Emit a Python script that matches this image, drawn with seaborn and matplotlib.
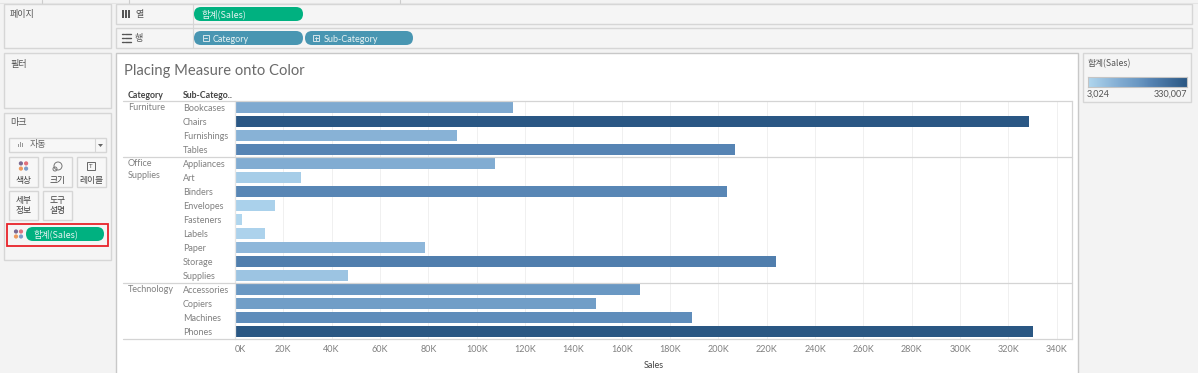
import pandas as pd
import matplotlib.pyplot as plt
import seaborn as sns
from matplotlib.colors import LinearSegmentedColormap, Normalize
from matplotlib.patches import Rectangle, FancyBboxPatch, Circle
from matplotlib.ticker import FuncFormatter
import numpy as np

categories = ['Furniture'] * 4 + ['Office Supplies'] * 9 + ['Technology'] * 4
sub_categories = ['Bookcases', 'Chairs', 'Furnishings', 'Tables',
                  'Appliances', 'Art', 'Binders', 'Envelopes', 'Fasteners',
                  'Labels', 'Paper', 'Storage', 'Supplies',
                  'Accessories', 'Copiers', 'Machines', 'Phones']
sales = [114880, 328449, 91705, 206966,
         107532, 27119, 203413, 16476, 3024,
         12486, 78479, 223844, 46674,
         167380, 149528, 189239, 330007]
x_ticks = list(range(0, 340001, 20000))
sales_min = 3024
sales_max = 330007

KR = ['Noto Sans CJK KR', 'DejaVu Sans']
sns.set_theme(style='white')
plt.rcParams['font.family'] = ['Lato', 'Noto Sans CJK KR', 'DejaVu Sans']

W, H = 1198, 373
cmap = LinearSegmentedColormap.from_list('tab_blue', [(0, '#b0d6ee'), (0.33, '#7faad1'), (0.5, '#6a98c3'),
                                                      (0.63, '#5583b3'), (1, '#2a5783')])
GREY = '#808080'
BORDER = '#d6d6d6'

fig = plt.figure(figsize=(W / 100, H / 100), dpi=100, facecolor='#f3f3f3')

# 바깥 화면 (pixel 좌표)
bg = fig.add_axes([0, 0, 1, 1])
bg.set_xlim(0, W)
bg.set_ylim(H, 0)
bg.axis('off')


def box(x0, y0, x1, y1, fc='#f5f5f5', ec=BORDER, lw=1.0, z=1):
    bg.add_patch(Rectangle((x0, y0), x1 - x0, y1 - y0, fc=fc, ec=ec, lw=lw, zorder=z))


def pill(x0, y0, x1, y1, color, label, tx, family=None, dy=0.0):
    r = (y1 - y0) / 2
    bg.add_patch(FancyBboxPatch((x0 + r, y0 + r), x1 - x0 - 2 * r, 0,
                                boxstyle='round,pad=%f' % r, fc=color, ec='none', zorder=3))
    bg.text(tx, (y0 + y1) / 2 + dy, label, color='#e8f3f3', fontsize=6.5, va='center', family=family, zorder=4)


def dots(cx, cy, d=2.6, r=2.1):
    for dx, dy, c in [(-d, -d, '#7c6a92'), (d, -d, '#e0707c'), (-d, d, '#ee9a5e'), (d, d, '#7c9cc8')]:
        bg.add_patch(Circle((cx + dx, cy + dy), r, fc=c, ec='none', zorder=4))


def pm_icon(x, y, plus=False):
    bg.add_patch(Rectangle((x, y), 6, 6, fc='none', ec='#d5e5ea', lw=0.7, zorder=4))
    bg.plot([x + 1.5, x + 4.5], [y + 3, y + 3], color='#d5e5ea', lw=0.7, zorder=4)
    if plus:
        bg.plot([x + 3, x + 3], [y + 1.5, y + 4.5], color='#d5e5ea', lw=0.7, zorder=4)


# 상단 탭 경계
bg.plot([0, W], [2.5, 2.5], color='#e4e4e4', lw=0.8)
for tab_x in (42, 129, 400):
    bg.plot([tab_x, tab_x], [0, 2.5], color='#cccccc', lw=0.8)

# 왼쪽 카드
box(4, 4, 111, 48)
box(4, 53, 111, 108)
box(4, 113, 111, 260)
bg.text(10, 15, '페이지', fontsize=6.5, color='#555555', va='center', family=KR)
bg.text(10, 64, '필터', fontsize=6.5, color='#555555', va='center', family=KR)
bg.text(10, 123, '마크', fontsize=6.5, color='#555555', va='center', family=KR)

box(9, 138, 106, 152, fc='#f7f7f7')
bg.plot([95, 95], [138, 152], color=BORDER, lw=0.8)
bg.fill([98, 103, 100.5], [144, 144, 147], color='#666666', lw=0)
for bx, bh in [(18, 3), (20, 5), (22, 4)]:
    bg.add_patch(Rectangle((bx, 147 - bh), 1.2, bh, fc='#999999', ec='none', zorder=3))
bg.text(30, 145, '자동', fontsize=6.5, color='#666666', va='center', family=KR)

for x0, x1, y0, y1 in [(9, 38, 157, 187), (43, 72, 157, 187), (77, 106, 157, 187),
                       (9, 38, 191, 220), (43, 72, 191, 220)]:
    box(x0, y0, x1, y1, fc='#f7f7f7')
dots(23.5, 166)
bg.add_patch(Circle((58, 166), 4, fc='none', ec='#777777', lw=0.7, zorder=4))
bg.add_patch(Circle((55, 169), 2, fc='none', ec='#777777', lw=0.7, zorder=4))
bg.add_patch(Rectangle((87, 162), 8, 8, fc='none', ec='#666666', lw=0.7, zorder=4))
bg.text(91, 166, 'T', fontsize=4.5, color='#555555', ha='center', va='center', zorder=5)
for tx, ty, s in [(23.5, 180, '색상'), (57.5, 180, '크기'), (91.5, 180, '레이블'),
                  (23.5, 201, '세부'), (23.5, 211, '정보'), (57.5, 201, '도구'), (57.5, 211, '설명')]:
    bg.text(tx, ty, s, fontsize=6.3, color='#444444', ha='center', va='center', family=KR, zorder=4)

dots(18.5, 234, d=2.5, r=2.1)
pill(26, 227, 104, 241, '#00b180', '합계(Sales)', 34, KR)
bg.add_patch(Rectangle((7, 224), 101, 21.5, fc='none', ec='#e8232a', lw=1.3, zorder=5))

# 열 / 행 선반
box(116, 4, 1192, 24)
box(116, 28, 1192, 48)
bg.plot([192.5, 192.5], [4, 48], color=BORDER, lw=0.8, zorder=2)
for bx in (122, 125, 128):
    bg.add_patch(Rectangle((bx, 10), 1.5, 8, fc='#555555', ec='none', zorder=3))
for by in (34, 38, 42):
    bg.plot([122, 123.5], [by, by], color='#555555', lw=1, zorder=3)
    bg.plot([125, 131], [by, by], color='#555555', lw=1, zorder=3)
bg.text(135, 14, '열', fontsize=6.5, color='#555555', va='center', family=KR)
bg.text(135, 38, '행', fontsize=6.5, color='#555555', va='center', family=KR)
pill(194, 7, 303, 21, '#00b180', '합계(Sales)', 202, KR)
pill(194, 31, 303, 45, '#4996b2', 'Category', 213, dy=1)
pill(305, 31, 413, 45, '#4996b2', 'Sub-Category', 324, dy=1)
pm_icon(202.5, 35)
pm_icon(313, 35, plus=True)

# 차트 카드
box(116, 53, 1078, 380, fc='white', ec='#c8c8c8')
bg.text(124, 71.5, 'Placing Measure onto Color', fontsize=10.6, color='#6a6a6a', va='center',
        fontweight='normal', zorder=3)
bg.text(128, 95, 'Category', fontsize=6.3, color='#444444', va='center', fontweight='bold', zorder=3)
bg.text(183, 95, 'Sub-Catego..', fontsize=6.3, color='#444444', va='center', fontweight='bold', zorder=3)

# 범례 카드
box(1083, 53, 1191, 102)
bg.text(1088, 64, '합계(Sales)', fontsize=6.3, color='#555555', va='center', family=KR)
bg.text(1087, 94.5, f'{sales_min:,}', fontsize=6.5, color='#555555', va='center')
bg.text(1187, 94.5, f'{sales_max:,}', fontsize=6.5, color='#555555', va='center', ha='right')

cax = fig.add_axes([1087.5 / W, 1 - 87 / H, 99.5 / W, 10 / H])
cax.imshow(np.linspace(0, 1, 200)[None, :], cmap=cmap, aspect='auto')
cax.set_xticks([])
cax.set_yticks([])
for s in cax.spines.values():
    s.set_color('#c4c4c4')
    s.set_linewidth(0.8)

# 막대 차트
df = pd.DataFrame({'Category': categories, 'Sub-Category': sub_categories, 'Sales': sales})
left, right, top, bottom = 235, 1072, 100.5, 338.5
ax = fig.add_axes([left / W, 1 - bottom / H, (right - left) / W, (bottom - top) / H])
ax.set_axisbelow(True)
sns.barplot(data=df, x='Sales', y='Sub-Category', hue='Sales', palette=cmap,
            hue_norm=Normalize(sales_min, sales_max), dodge=False, legend=False,
            width=0.8, saturation=1, linewidth=0, ax=ax)
ax.set_xlim(0, (right - left) / 2.417 * 1000)
ax.set_ylim(16.5, -0.5)

ax.set_xticks(x_ticks)
ax.xaxis.set_major_formatter(FuncFormatter(lambda v, p: f'{v / 1000:.0f}K'))
ax.tick_params(axis='x', length=0, pad=5, labelsize=6.5, labelcolor=GREY)
ax.tick_params(axis='y', length=0, pad=37.4, labelsize=6.5, labelcolor=GREY)
for t in ax.get_yticklabels():
    t.set_ha('left')
ax.get_xticklabels()[0].set_ha('left')
ax.grid(axis='x', color='#f0f0f0', lw=0.7)
ax.grid(axis='y', visible=False)
ax.set_ylabel('')
ax.set_xlabel('Sales', fontsize=6.5, color='#444444', labelpad=4.5)
for s in ax.spines.values():
    s.set_color('#d4d4d4')
    s.set_linewidth(0.9)
ax.spines['left'].set_color('#e6e6e6')
ax.spines['top'].set_visible(False)
ax.spines['bottom'].set_visible(False)

# 카테고리 이름과 구분선
trans = ax.get_yaxis_transform()
head = (123 - left) / (right - left)
lab_x = (128 - left) / (right - left)
for sep in (-0.5, 3.5, 12.5, 16.5):
    ax.plot([head, 1], [sep, sep], transform=trans, color='#d4d4d4', lw=0.9, clip_on=False, zorder=5)
ax.text(lab_x, 0, 'Furniture', transform=trans, fontsize=6.5, color=GREY, va='center')
ax.text(lab_x, 4, 'Office', transform=trans, fontsize=6.5, color=GREY, va='center')
ax.text(lab_x, 4.85, 'Supplies', transform=trans, fontsize=6.5, color=GREY, va='center')
ax.text(lab_x, 13, 'Technology', transform=trans, fontsize=6.5, color=GREY, va='center')

fig.savefig('out.png', dpi=100, facecolor=fig.get_facecolor())
